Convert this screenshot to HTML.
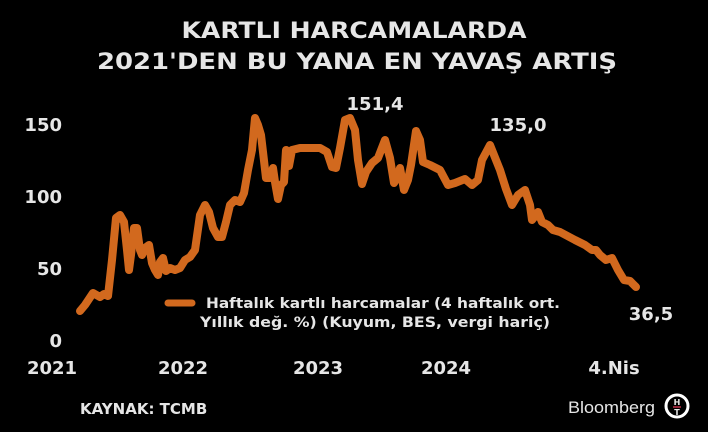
<!DOCTYPE html>
<html><head><meta charset="utf-8"><style>
html,body{margin:0;padding:0;background:#000;}
svg{display:block}
text{font-family:"DejaVu Sans","Liberation Sans",sans-serif;font-weight:bold;fill:#e6e6e6}
</style></head><body>
<svg width="708" height="432" viewBox="0 0 708 432" xmlns="http://www.w3.org/2000/svg">
<rect width="708" height="432" fill="#000"/>
<text x="354" y="38" font-size="22" text-anchor="middle" textLength="345" lengthAdjust="spacingAndGlyphs">KARTLI HARCAMALARDA</text>
<text x="357" y="69" font-size="22" text-anchor="middle" textLength="520" lengthAdjust="spacingAndGlyphs">2021'DEN BU YANA EN YAVAŞ ARTIŞ</text>
<g font-size="18" text-anchor="end">
<text x="62" y="131">150</text>
<text x="62" y="203">100</text>
<text x="62" y="275">50</text>
<text x="62" y="347">0</text>
</g>
<g font-size="18" text-anchor="middle">
<text x="52" y="374">2021</text>
<text x="183" y="374">2022</text>
<text x="318" y="374">2023</text>
<text x="446" y="374">2024</text>
<text x="614" y="374">4.Nis</text>
<text x="375" y="110">151,4</text>
<text x="518" y="131">135,0</text>
<text x="651" y="320">36,5</text>
</g>
<polyline fill="none" stroke="#d2691e" stroke-width="8" stroke-linejoin="round" stroke-linecap="round" points="80,311 85,305 93,293 100,297 104,294 108,296 112,260 116,218 120,215 124,222 127,250 129,270 131,255 134,228 137,228 140,250 142,255 145,248 149,245 152,263 155,270 158,275 160,262 163,258 166,271 170,268 175,270 180,268 185,260 190,257 195,250 200,215 205,205 209,212 213,228 218,237 222,237 226,222 230,205 235,200 240,202 244,193 248,170 252,150 255,118 258,125 261,135 263,152 266,178 270,178 273,168 275,182 278,199 281,185 284,182 286,150 289,166 292,150 300,148 310,148 320,148 327,152 332,167 336,168 340,148 345,120 350,118 355,130 358,160 362,184 366,172 372,163 378,158 385,140 390,158 394,183 398,176 400,168 404,190 408,180 411,165 416,131 420,140 423,162 430,165 440,170 448,185 455,183 465,179 472,185 478,180 482,160 490,145 496,160 500,170 506,189 512,205 518,195 525,190 530,205 532,220 538,212 542,222 548,225 553,230 560,232 575,240 585,245 592,250 596,250 600,255 606,260 612,258 618,270 624,280 630,281 636,287"/>
<line x1="168" y1="303" x2="192" y2="303" stroke="#d2691e" stroke-width="7" stroke-linecap="round"/>
<g font-size="14" text-anchor="start">
<text x="206" y="308" textLength="354" lengthAdjust="spacingAndGlyphs">Haftalık kartlı harcamalar (4 haftalık ort.</text>
<text x="200" y="327" textLength="350" lengthAdjust="spacingAndGlyphs">Yıllık değ. %) (Kuyum, BES, vergi hariç)</text>
</g>
<text x="80" y="414" font-size="15">KAYNAK: TCMB</text>
<text x="568" y="413" font-size="17" style="font-family:'Liberation Sans',sans-serif;font-weight:normal" fill="#fff" textLength="87" lengthAdjust="spacingAndGlyphs">Bloomberg</text>
<circle cx="677" cy="406" r="11" fill="none" stroke="#fff" stroke-width="3"/>
<text x="677" y="405" font-size="8" text-anchor="middle">H</text>
<line x1="673" y1="407" x2="681" y2="407" stroke="#c0304a" stroke-width="1.5"/>
<text x="677" y="415" font-size="8" text-anchor="middle">T</text>
</svg>
</body></html>
